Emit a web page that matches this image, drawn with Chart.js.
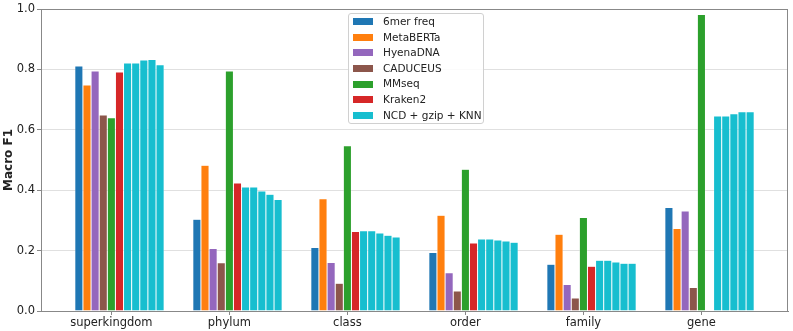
<!DOCTYPE html>
<html>
<head>
<meta charset="utf-8">
<script src="https://cdn.jsdelivr.net/npm/chart.js@4.4.1/dist/chart.umd.min.js"></script>
<style>
  body { margin: 0; background: #fff; }
  #wrap { position: relative; width: 793px; height: 331px; }
  #legend {
    position: absolute; left: 348px; top: 13px; width: 134px; height: 109px;
    border: 1px solid #d0d0d0; border-radius: 3px; background: rgba(255,255,255,0.85);
    font-family: 'DejaVu Sans', sans-serif; font-size: 10.5px; color: #222;
    padding-top: 0px;
  }
  .row { height: 15.6px; line-height: 15.6px; display: flex; align-items: center; white-space: nowrap; }
  .patch { width: 20px; height: 7px; margin-left: 4px; margin-right: 10px; flex: none; }
</style>
</head>
<body>
<div id="wrap">
  <canvas id="myChart" width="793" height="331"></canvas>
  <div id="legend"></div>
</div>
<script>
const categories = ['superkingdom', 'phylum', 'class', 'order', 'family', 'gene'];

const sixmerFreq = [0.811, 0.304, 0.210, 0.194, 0.155, 0.343];
const metaBERTa  = [0.748, 0.483, 0.372, 0.317, 0.254, 0.273];
const hyenaDNA   = [0.795, 0.207, 0.161, 0.127, 0.088, 0.331];
const caduceus   = [0.649, 0.160, 0.092, 0.066, 0.043, 0.078];
const mmseq      = [0.640, 0.795, 0.547, 0.469, 0.310, 0.982];
const kraken2    = [0.791, 0.424, 0.263, 0.225, 0.148, null];

// NCD + gzip + KNN, five runs
const ncdRun1 = [0.821, 0.411, 0.266, 0.238, 0.168, 0.646];
const ncdRun2 = [0.821, 0.411, 0.266, 0.238, 0.168, 0.646];
const ncdRun3 = [0.831, 0.397, 0.258, 0.235, 0.162, 0.653];
const ncdRun4 = [0.833, 0.387, 0.251, 0.232, 0.158, 0.660];
const ncdRun5 = [0.815, 0.369, 0.245, 0.228, 0.158, 0.660];

const yTicks = [0, 0.2, 0.4, 0.6, 0.8, 1.0];

const methods = [
    {label: '6mer freq', color: '#1f77b4', values: [sixmerFreq]},
    {label: 'MetaBERTa', color: '#ff7f0e', values: [metaBERTa]},
    {label: 'HyenaDNA', color: '#9467bd', values: [hyenaDNA]},
    {label: 'CADUCEUS', color: '#8c564b', values: [caduceus]},
    {label: 'MMseq', color: '#2ca02c', values: [mmseq]},
    {label: 'Kraken2', color: '#d62728', values: [kraken2]},
    {label: 'NCD + gzip + KNN', color: '#17becf', values: [ncdRun1, ncdRun2, ncdRun3, ncdRun4, ncdRun5]}
];

const catPct = 0.757;
const nBars = 11;
const slot = catPct / nBars;

const datasets = [];
methods.forEach(m => {
    m.values.forEach(vals => {
        datasets.push({
            label: m.label,
            data: categories.map((c, i) => ({x: i, y: vals[i]})),
            backgroundColor: m.color,
            borderColor: 'rgba(255,255,255,0.9)',
            borderWidth: 0.5,
            categoryPercentage: catPct,
            barPercentage: 1.0
        });
    });
});

// legend
const legendEl = document.getElementById('legend');
methods.forEach(m => {
    const row = document.createElement('div');
    row.className = 'row';
    row.innerHTML = '<span class="patch" style="background:' + m.color + '"></span><span>' + m.label + '</span>';
    legendEl.appendChild(row);
});

const framePlugin = {
    id: 'frame',
    afterDraw(chart) {
        const a = chart.chartArea;
        const ctx = chart.ctx;
        ctx.save();
        ctx.strokeStyle = '#888';
        ctx.lineWidth = 1;
        ctx.strokeRect(Math.round(a.left) + 0.5, Math.round(a.top) + 0.5,
            Math.round(a.right - a.left) - 1, Math.round(a.bottom - a.top));
        ctx.restore();
    }
};

Chart.defaults.font.family = "'DejaVu Sans', sans-serif";
Chart.defaults.font.size = 11.5;
Chart.defaults.color = '#222';

const myChart = new Chart(document.getElementById('myChart'), {
    type: 'bar',
    data: {datasets: datasets},
    options: {
        responsive: false,
        animation: false,
        devicePixelRatio: 1,
        layout: {padding: {top: 9, right: 5, left: 0, bottom: 0}},
        plugins: {
            legend: {display: false},
            tooltip: {enabled: false}
        },
        scales: {
            x: {
                type: 'linear',
                offset: false,
                min: -0.665,
                max: categories.length - 1 + 0.665,
                afterBuildTicks: axis => {
                    axis.ticks = categories.map((c, i) => ({value: i - slot}));
                },
                afterFit: axis => { axis.height = 20; },
                ticks: {
                    autoSkip: false,
                    maxRotation: 0,
                    padding: 1,
                    callback: (v, i) => categories[i]
                },
                grid: {offset: false, drawOnChartArea: false, drawTicks: true, tickLength: 4, tickColor: '#888'},
                border: {color: '#888', width: 1}
            },
            y: {
                min: 0,
                max: 1,
                afterBuildTicks: axis => {
                    axis.ticks = yTicks.map(v => ({value: v}));
                },
                afterFit: axis => { axis.width = 41; },
                ticks: {
                    padding: 2,
                    callback: v => v.toFixed(1)
                },
                grid: {color: '#e0e0e0', lineWidth: 1, tickLength: 4, tickColor: '#888'},
                border: {color: '#888', width: 1},
                title: {
                    display: true,
                    text: 'Macro F1',
                    font: {weight: 'bold', size: 12},
                    padding: {top: 2, bottom: 0}
                }
            }
        }
    },
    plugins: [framePlugin]
});
</script>
</body>
</html>
